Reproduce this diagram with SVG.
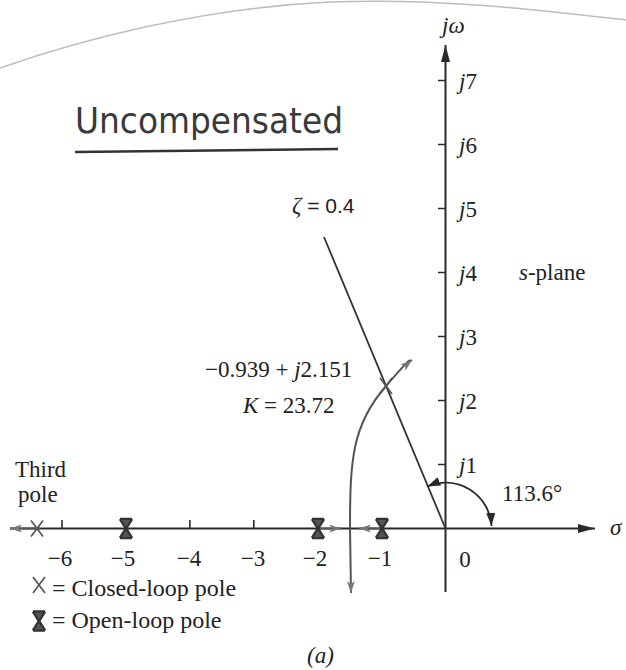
<svg xmlns="http://www.w3.org/2000/svg" width="626" height="670" viewBox="0 0 626 670">
<style>
  text { font-family: "Liberation Serif", "Times New Roman", serif; fill: #222; font-size: 23px; }
  .it { font-style: italic; }
  .sans { font-family: "Liberation Sans", Arial, sans-serif; }
  .hand { font-family: "DejaVu Sans", sans-serif; font-size: 36px; fill: #3a3a3a; }
  .leg { font-size: 24px; }
  .axis { stroke: #2a2a2a; stroke-width: 2; fill: none; }
  .tick { stroke: #2a2a2a; stroke-width: 1.6; fill: none; }
  .locus { stroke: #555; stroke-width: 2; fill: none; }
  .zeta { stroke: #333; stroke-width: 1.8; fill: none; }
  .arc { stroke: #2a2a2a; stroke-width: 1.8; fill: none; }
  .edge { stroke: #bdbdbd; stroke-width: 1.5; fill: none; }
</style>
<defs>
  <marker id="axArrow" viewBox="0 0 17 9" refX="17" refY="4.5" markerWidth="17" markerHeight="9" markerUnits="userSpaceOnUse" orient="auto">
    <path d="M0,0 L17,4.5 L0,9 Z" fill="#2a2a2a"/>
  </marker>
  <marker id="locArrow" viewBox="0 0 12 8" refX="12" refY="4" markerWidth="12" markerHeight="8" markerUnits="userSpaceOnUse" orient="auto">
    <path d="M0,0 L12,4 L0,8 L3,4 Z" fill="#777"/>
  </marker>
  <marker id="arcArrow" viewBox="0 0 13 9" refX="13" refY="4.5" markerWidth="13" markerHeight="9" markerUnits="userSpaceOnUse" orient="auto-start-reverse">
    <path d="M0,0 L13,4.5 L0,9 Z" fill="#2a2a2a"/>
  </marker>
  <g id="clpSym" fill="none" stroke="#555" stroke-width="1.7">
    <path d="M-6,-8 Q0,0 6,8 M6,-8 Q0,0 -6,8"/>
  </g>
  <g id="olpSym" stroke="#333" stroke-width="2.6" fill="none">
    <path d="M-6,-9.5 L6,-9.5 M-6,9.5 L6,9.5 M-6,-9.5 L6,9.5 M6,-9.5 L-6,9.5"/>
    <path d="M-5,-9 L5,-9 L0,-1 Z M-5,9 L5,9 L0,1 Z" fill="#555" stroke-width="1"/>
  </g>
</defs>

<!-- page edge of the scan -->
<path class="edge" d="M0,68 C80,40 200,8 330,2 C440,-2 540,10 626,20"/>

<!-- handwritten title -->
<g id="title">
  <text class="hand" x="75" y="133" textLength="268" lengthAdjust="spacingAndGlyphs">Uncompensated</text>
  <path d="M75,152 Q200,150 338,149" stroke="#333" stroke-width="2.6" fill="none"/>
</g>

<!-- axes -->
<g id="axes">
  <line class="axis" x1="10" y1="528.5" x2="595" y2="528.5" marker-end="url(#axArrow)"/>
  <line class="axis" x1="445.5" y1="592" x2="445.5" y2="45" marker-end="url(#axArrow)"/>
  <path class="tick" d="M62,528.5 V520 M189.9,528.5 V520 M253.8,528.5 V520"/>
  <path class="tick" d="M438,464.5 H445.5 M438,400.5 H445.5 M438,336.5 H445.5 M438,272.5 H445.5 M438,208.5 H445.5 M438,144.5 H445.5 M438,80.5 H445.5"/>
  <text class="it" x="442" y="33">jω</text>
  <text class="it" x="610" y="535">σ</text>
  <text x="519" y="280"><tspan class="it">s</tspan>-plane</text>
</g>

<g id="axis-labels">
  <text x="459" y="473"><tspan class="it">j</tspan>1</text>
  <text x="459" y="409"><tspan class="it">j</tspan>2</text>
  <text x="459" y="345"><tspan class="it">j</tspan>3</text>
  <text x="459" y="281"><tspan class="it">j</tspan>4</text>
  <text x="459" y="217"><tspan class="it">j</tspan>5</text>
  <text x="459" y="153"><tspan class="it">j</tspan>6</text>
  <text x="459" y="89"><tspan class="it">j</tspan>7</text>
  <text x="60" y="566" text-anchor="middle">−6</text>
  <text x="123" y="566" text-anchor="middle">−5</text>
  <text x="189" y="566" text-anchor="middle">−4</text>
  <text x="253" y="566" text-anchor="middle">−3</text>
  <text x="315" y="566" text-anchor="middle">−2</text>
  <text x="380" y="566" text-anchor="middle">−1</text>
  <text x="465" y="567" text-anchor="middle">0</text>
</g>

<!-- connectors: root locus branches, zeta line, angle arc -->
<g id="connectors">
  <line class="zeta" x1="324" y1="237" x2="445.5" y2="528.5"/>
  <path class="locus" d="M350,528.5 C350,460 352,425 386,386 S405,366 412,360" marker-end="url(#locArrow)"/>
  <path class="locus" d="M350,528.5 L351,593" marker-end="url(#locArrow)"/>
  <line class="locus" x1="320" y1="528.5" x2="341" y2="528.5" marker-end="url(#locArrow)"/>
  <line class="locus" x1="380" y1="528.5" x2="359" y2="528.5" marker-end="url(#locArrow)"/>
  <line class="locus" x1="40" y1="528.5" x2="10" y2="528.5" marker-end="url(#locArrow)"/>
  <path class="arc" d="M491.5,526 A46,46 0 0 0 427.4,486.4" marker-start="url(#arcArrow)" marker-end="url(#arcArrow)"/>
</g>

<!-- poles -->
<g id="pole-third"><use href="#clpSym" x="37" y="528.5"/></g>
<g id="pole-minus5"><use href="#olpSym" x="126" y="528.5"/></g>
<g id="pole-minus2"><use href="#olpSym" x="318" y="528.5"/></g>
<g id="pole-minus1"><use href="#olpSym" x="382" y="528.5"/></g>
<g id="pole-closed-loop"><use href="#clpSym" x="386" y="386"/></g>

<!-- labels -->
<g id="zeta-label">
  <text x="292" y="213"><tspan class="it">ζ</tspan><tspan class="sans" font-size="21"> = 0.4</tspan></text>
</g>
<g id="cl-label">
  <text x="205" y="377">−0.939 + <tspan class="it">j</tspan>2.151</text>
  <text x="243" y="413"><tspan class="it">K</tspan> = 23.72</text>
</g>
<g id="angle-label"><text x="502" y="501">113.6°</text></g>
<g id="third-label">
  <text x="15" y="477">Third</text>
  <text x="18" y="502">pole</text>
</g>
<g id="legend">
  <use href="#clpSym" x="39" y="585"/>
  <text class="leg" x="52" y="596">= Closed-loop pole</text>
  <use href="#olpSym" x="39" y="621"/>
  <text class="leg" x="52" y="628">= Open-loop pole</text>
</g>
<g id="caption"><text class="it" x="307" y="663">(a)</text></g>
</svg>
